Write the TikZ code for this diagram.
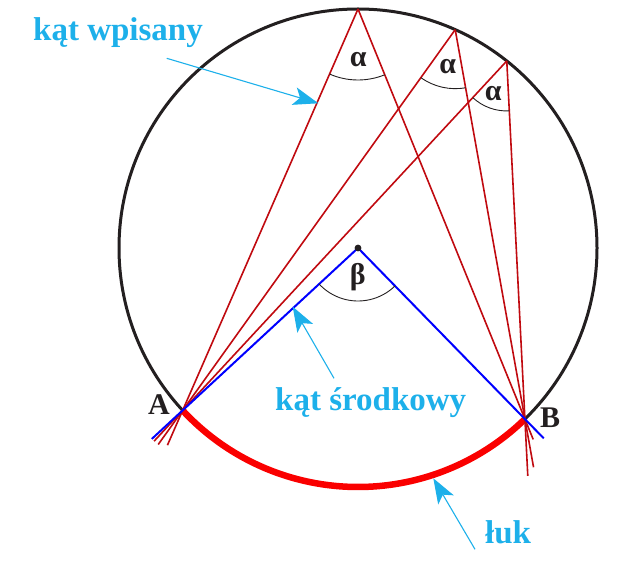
\documentclass[tikz,border=0pt]{standalone}
\usepackage{fontspec}
\setmainfont{Liberation Serif}
\usetikzlibrary{calc,angles,arrows.meta}
\definecolor{circ}{HTML}{231F20}
\definecolor{redline}{HTML}{C00A10}
\definecolor{arcred}{HTML}{FA0000}
\definecolor{blueline}{HTML}{0000FF}
\definecolor{cyantext}{HTML}{1DB0EA}
\begin{document}
\begin{tikzpicture}[x=1pt,y=-1pt,
  circleline/.style={draw=circ, line width=3pt},
  chord/.style={draw=redline, line width=1.6pt},
  radiusline/.style={draw=blueline, line width=2pt},
  arcstyle/.style={draw=arcred, line width=6.5pt},
  anglearc/.style={draw=circ, line width=0.9pt},
  pointer/.style={draw=cyantext, line width=1.1pt, -{Stealth[length=25pt,width=18pt,inset=6pt]}},
  callout/.style={text=cyantext, font=\bfseries\fontsize{33}{36}\selectfont, inner sep=0pt, anchor=base west},
  ptlabel/.style={text=circ, font=\bfseries\fontsize{30}{32}\selectfont, inner sep=0pt, anchor=base west},
  greek/.style={text=circ, font=\bfseries\fontsize{30}{32}\selectfont, inner sep=0pt},
]
\useasboundingbox (0,0) rectangle (619,561);
\coordinate (O) at (358,248);
\coordinate (A) at ($(O)+(137.2:239)$);
\coordinate (B) at ($(O)+(45.7:239)$);
\coordinate (P1) at ($(O)+(-90:239)$);
\coordinate (P2) at ($(O)+(-66:239)$);
\coordinate (P3) at ($(O)+(-51.5:239)$);
% extensions
\coordinate (A1) at ($(A)!-38pt!(P1)$);
\coordinate (A2) at ($(A)!-42pt!(P2)$);
\coordinate (A3) at ($(A)!-42pt!(P3)$);
\coordinate (B1) at ($(B)!-22pt!(P1)$);
\coordinate (B2) at ($(B)!-49pt!(P2)$);
\coordinate (B3) at ($(B)!-57pt!(P3)$);
\coordinate (EA) at ($(A)!-42pt!(O)$);
\coordinate (EB) at ($(B)!-27pt!(O)$);
% circle and arc
\draw[circleline] (O) circle[radius=239];
\draw[arcstyle] (A) arc[start angle=137.2, end angle=45.7, radius=239];
% chords
\draw[chord] (P1) -- (A1);
\draw[chord] (P1) -- (B1);
\draw[chord] (P2) -- (A2);
\draw[chord] (P2) -- (B2);
\draw[chord] (P3) -- (A3);
\draw[chord] (P3) -- (B3);
% radii
\draw[radiusline] (EA) -- (O) -- (EB);
\fill[circ] (O) circle[radius=3.4pt];
% angle arcs
\pic[anglearc, angle radius=71pt] {angle = A--P1--B};
\pic[anglearc, angle radius=59pt] {angle = A--P2--B};
\pic[anglearc, angle radius=50pt] {angle = A--P3--B};
\pic[anglearc, angle radius=53pt] {angle = A--O--B};
% greek labels
\node[greek] (a1) at (358.3,60) {α};
\node[greek] (a2) at (447.7,66.3) {α};
\node[greek] (a3) at (493.3,93.3) {α};
\node[greek] (b0) at (357.7,277) {β};
% point labels
\node[ptlabel] (la) at (148,415) {A};
\node[ptlabel] (lb) at (540,428) {B};
% callouts
\node[callout] (lw) at (33,41) {kąt wpisany};
\node[callout] (ls) at (275,410) {kąt środkowy};
\node[callout] (ll) at (485,543) {łuk};
\coordinate (w0) at (166.7,58.3);
\coordinate (w1) at (318.3,103.3);
\coordinate (s0) at (334,378.3);
\coordinate (s1) at (292.7,306.7);
\coordinate (u0) at (475,549.3);
\coordinate (u1) at (433.3,478.3);
\draw[pointer] (w0) -- (w1);
\draw[pointer] (s0) -- (s1);
\draw[pointer] (u0) -- (u1);
\end{tikzpicture}
\end{document}
